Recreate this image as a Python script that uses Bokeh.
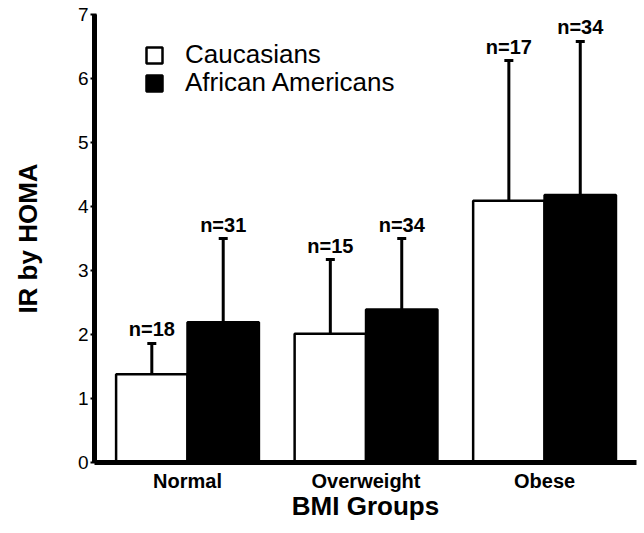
from bokeh.plotting import figure
from bokeh.models import (Range1d, FixedTicker, ColumnDataSource, Whisker,
                          TeeHead, Legend, LegendItem)
from bokeh.core.properties import value
from bokeh.embed import file_html
from bokeh.resources import INLINE

# ---------------- data ----------------
categories = ["Normal", "Overweight", "Obese"]
caucasian_mean = [1.38, 2.01, 4.09]
caucasian_sd = [0.48, 1.16, 2.19]
caucasian_n = [18, 15, 17]
african_american_mean = [2.19, 2.39, 4.18]
african_american_sd = [1.31, 1.11, 2.40]
african_american_n = [31, 34, 34]
y_ticks = [0, 1, 2, 3, 4, 5, 6, 7]
series_labels = ["Caucasians", "African Americans"]

FONT = "Liberation Sans"
group_pos = [i + 1 for i in range(len(categories))]
BAR_W = 0.4


def make_source(means, sds, ns, offset):
    return ColumnDataSource(dict(
        x=[g + offset for g in group_pos],
        top=means,
        upper=[m + s for m, s in zip(means, sds)],
        label=[f"n={n}" for n in ns],
    ))


src_c = make_source(caucasian_mean, caucasian_sd, caucasian_n, -BAR_W / 2)
src_a = make_source(african_american_mean, african_american_sd, african_american_n, BAR_W / 2)

p = figure(width=644, height=533,
           x_range=Range1d(0.479, 3.515), y_range=Range1d(0, 7),
           output_backend="svg", toolbar_location=None,
           min_border_left=94, min_border_right=8,
           min_border_top=14, min_border_bottom=71)
p.outline_line_color = None
p.grid.visible = False
p.background_fill_color = "white"
p.border_fill_color = "white"

# error bars (upper only)
for src in (src_c, src_a):
    w = Whisker(source=src, base="x", lower="top", upper="upper",
                dimension="height", line_width=3, line_color="black",
                upper_head=TeeHead(size=9, line_width=3, line_color="black"),
                lower_head=None)
    p.add_layout(w)

r_c = p.vbar(x="x", top="top", bottom=0, width=BAR_W, source=src_c,
             fill_color="white", line_color="black", line_width=2.5)
r_a = p.vbar(x="x", top="top", bottom=0, width=BAR_W, source=src_a,
             fill_color="black", line_color="black", line_width=2.5)

for src in (src_c, src_a):
    p.text(x="x", y="upper", text="label", source=src,
           text_align="center", text_baseline="alphabetic", y_offset=-14,
           text_font=value(FONT), text_font_style="bold",
           text_font_size="20px", text_color="black")

# y axis
ya = p.yaxis[0]
ya.ticker = FixedTicker(ticks=y_ticks)
ya.axis_label = "IR by HOMA"
ya.axis_label_text_font = FONT
ya.axis_label_text_font_style = "bold"
ya.axis_label_text_font_size = "26px"
ya.axis_label_text_color = "black"
ya.axis_label_standoff = 32
ya.major_label_text_font = FONT
ya.major_label_text_font_size = "19px"
ya.major_label_text_color = "black"
ya.major_label_standoff = 2
ya.axis_line_width = 5
ya.axis_line_color = "black"
ya.major_tick_out = 4
ya.major_tick_in = 2
ya.major_tick_line_width = 2
ya.major_tick_line_color = "black"
ya.minor_tick_line_color = None

# x axis
xa = p.xaxis[0]
xa.ticker = FixedTicker(ticks=group_pos)
xa.major_label_overrides = {g: c for g, c in zip(group_pos, categories)}
xa.axis_label = "BMI Groups"
xa.axis_label_text_font = FONT
xa.axis_label_text_font_style = "bold"
xa.axis_label_text_font_size = "26px"
xa.axis_label_text_color = "black"
xa.axis_label_standoff = -4
xa.major_label_text_font = FONT
xa.major_label_text_font_style = "bold"
xa.major_label_text_font_size = "20px"
xa.major_label_text_color = "black"
xa.major_label_standoff = 7
xa.axis_line_width = 5
xa.axis_line_color = "black"
xa.major_tick_out = 0
xa.major_tick_in = 0
xa.major_tick_line_color = None
xa.minor_tick_line_color = None

# legend: one Legend per entry so each row can be placed exactly
for label, rend, loc in ((series_labels[0], r_c, (50, 392)),
                         (series_labels[1], r_a, (50, 364))):
    lg = Legend(items=[LegendItem(label=label, renderers=[rend])],
                location=loc, padding=0, margin=0, spacing=0,
                glyph_width=20, glyph_height=20, label_standoff=21,
                label_text_font=FONT, label_text_font_size="26px",
                label_text_color="black",
                border_line_color=None, background_fill_alpha=0)
    p.add_layout(lg)

open("out.html", "w").write(file_html(p, INLINE))
